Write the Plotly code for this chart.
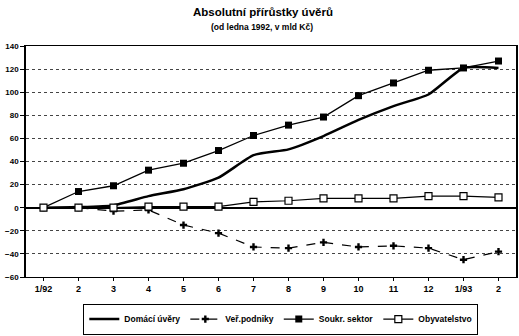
import plotly.graph_objects as go

months = ["1/92", "2", "3", "4", "5", "6", "7", "8", "9", "10", "11", "12", "1/93", "2"]
domaci_uvery = [0, 0.5, 2, 10, 16, 26, 45.5, 50.5, 62, 76, 88, 98, 121, 121]
ver_podniky = [0, 0, -3, -2, -15, -22, -34, -35, -30, -34, -33, -35, -45, -38]
soukr_sektor = [0, 14, 19, 32.5, 38.5, 49.5, 62.5, 71.5, 78.5, 97, 108, 119, 121, 127]
obyvatelstvo = [0, 0, 0, 1, 1, 1, 5, 6, 8, 8, 8, 10, 10, 9]
y_ticks = [140, 120, 100, 80, 60, 40, 20, 0, -20, -40, -60]

x = list(range(len(months)))
FONT = "Liberation Sans"

fig = go.Figure()
fig.add_trace(go.Scatter(x=x, y=domaci_uvery, name="Domácí úvěry", mode="lines",
                         line=dict(color="black", width=2.5, shape="spline", smoothing=0.5)))
fig.add_trace(go.Scatter(x=x, y=ver_podniky, name="Veř.podniky", mode="lines+markers",
                         line=dict(color="black", width=1.2, dash="dash"),
                         marker=dict(symbol="cross", size=6, color="black")))
fig.add_trace(go.Scatter(x=x, y=soukr_sektor, name="Soukr. sektor", mode="lines+markers",
                         line=dict(color="black", width=1.3),
                         marker=dict(symbol="square", size=7, color="black")))
fig.add_trace(go.Scatter(x=x, y=obyvatelstvo, name="Obyvatelstvo", mode="lines+markers",
                         line=dict(color="black", width=1.2),
                         marker=dict(symbol="square", size=7, color="white",
                                     line=dict(color="black", width=1.2))))

fig.update_layout(
    width=519, height=336,
    margin=dict(l=26, r=1, t=46, b=57),
    paper_bgcolor="white", plot_bgcolor="white",
    font=dict(family=FONT, color="black", size=9, weight="bold"),
    showlegend=True,
    legend=dict(orientation="h", x=0.52, xanchor="center", y=-0.115, yanchor="top",
                bordercolor="black", borderwidth=1, font=dict(size=8.5, weight="bold"),
                itemwidth=30),
)
plot_w, plot_h = 519 - 27, 336 - 103
def px(xp): return (xp - 26) / plot_w
def py(yp): return (279 - yp) / plot_h
fig.add_annotation(text="Absolutní přírůstky úvěrů", x=px(264), y=py(12), xref="paper", yref="paper",
                   showarrow=False, font=dict(size=11.5, weight="bold"), xanchor="center", yanchor="middle")
fig.add_annotation(text="(od ledna 1992, v mld Kč)", x=px(263), y=py(27), xref="paper", yref="paper",
                   showarrow=False, font=dict(size=8.5, weight="bold"), xanchor="center", yanchor="middle")

fig.update_xaxes(range=[-0.5, len(months) - 0.5], tickvals=x, ticktext=months,
                 showgrid=False, zeroline=False, showline=True, linecolor="black", linewidth=1.2,
                 mirror=True, ticks="outside", ticklen=3, tickcolor="black",
                 tickfont=dict(size=9, weight="bold"))
fig.update_yaxes(range=[-60, 140], tickvals=y_ticks, showgrid=True, gridcolor="#444444",
                 griddash="dot", gridwidth=1, zeroline=True, zerolinecolor="black", zerolinewidth=1.5,
                 showline=True, linecolor="black", linewidth=1.5, mirror=True,
                 ticks="outside", ticklen=4, tickcolor="black",
                 tickfont=dict(size=8, weight="bold"))

fig.write_html("out.html")
